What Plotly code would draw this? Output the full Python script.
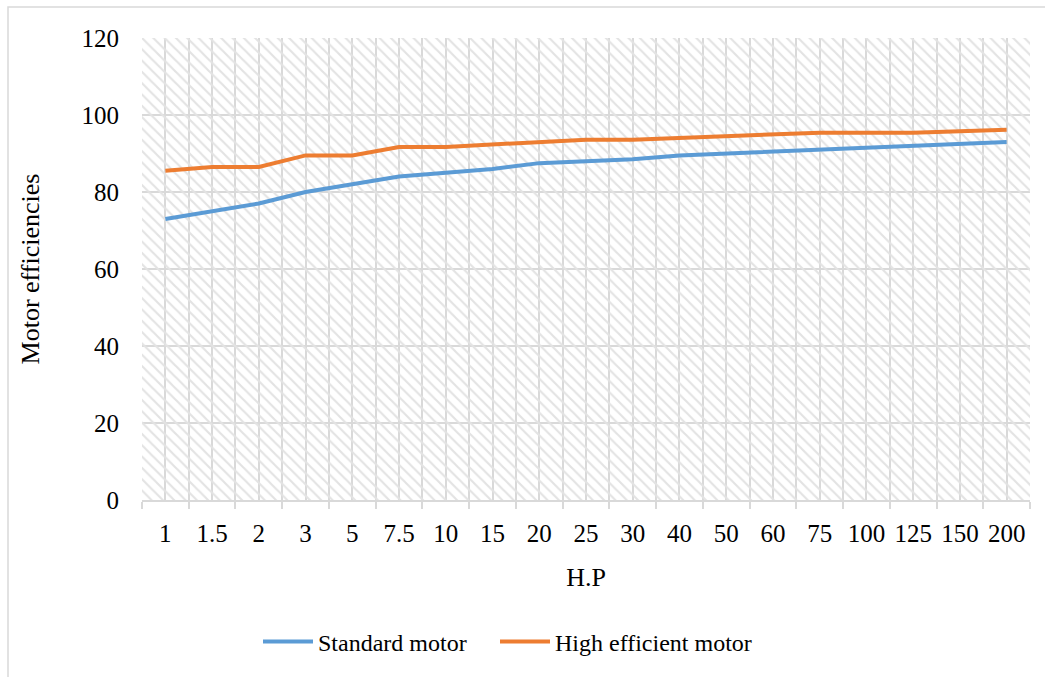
import plotly.graph_objects as go

categories = ["1", "1.5", "2", "3", "5", "7.5", "10", "15", "20", "25", "30",
              "40", "50", "60", "75", "100", "125", "150", "200"]
standard_motor = [73, 75, 77, 80, 82, 84, 85, 86, 87.5, 88, 88.5,
                  89.5, 90, 90.5, 91, 91.5, 92, 92.5, 93]
high_efficient_motor = [85.5, 86.5, 86.5, 89.5, 89.5, 91.7, 91.7, 92.4, 93, 93.6, 93.6,
                        94.1, 94.5, 95, 95.4, 95.4, 95.4, 95.8, 96.2]
y_ticks = [0, 20, 40, 60, 80, 100, 120]

n = len(categories)
idx = list(range(n))
ymax = y_ticks[-1]

FONT = "Liberation Serif, Times New Roman, serif"
GRID = "#d9d9d9"

fig = go.Figure()

# hatched plot-area background
fig.add_trace(go.Bar(
    x=idx, y=[ymax] * n, width=1,
    marker=dict(color="rgba(0,0,0,0)", line=dict(width=0),
                pattern=dict(shape="\\", fgcolor="#e3e3e3", bgcolor="rgba(0,0,0,0)",
                             size=8, solidity=0.27, fillmode="replace")),
    showlegend=False, hoverinfo="skip",
))

fig.add_trace(go.Scatter(
    x=idx, y=standard_motor, mode="lines", name="Standard motor",
    line=dict(color="#5b9bd5", width=4), legend="legend",
))
fig.add_trace(go.Scatter(
    x=idx, y=high_efficient_motor, mode="lines", name="High efficient motor",
    line=dict(color="#ed7d31", width=4), legend="legend2",
))

W, H = 1045, 677
L, R, T, B = 142, 15, 38, 177
pw, ph = W - L - R, H - T - B

def px_x(p):
    return (p - L) / pw

def px_y(p):
    return (H - B - p) / ph

legend_common = dict(orientation="h", xref="container", yref="container",
                     y=0.052, xanchor="left", yanchor="middle",
                     font=dict(family=FONT, size=24), itemwidth=50,
                     bgcolor="rgba(0,0,0,0)")

fig.update_layout(
    width=W, height=H,
    margin=dict(l=L, r=R, t=T, b=B),
    paper_bgcolor="white", plot_bgcolor="white",
    font=dict(family=FONT, size=24, color="black"),
    bargap=0,
    showlegend=True,
    legend=dict(x=258 / W, **legend_common),
    legend2=dict(x=495 / W, **legend_common),
    xaxis=dict(
        range=[-0.5, n - 0.5],
        tickmode="array", tickvals=idx, ticktext=categories,
        ticks="", showgrid=True, gridcolor=GRID, gridwidth=1.5,
        showline=True, linecolor=GRID, linewidth=1.5,
        zeroline=False,
        minor=dict(tickmode="array", tickvals=[i - 0.5 for i in range(n + 1)],
                   ticks="outside", ticklen=7, tickcolor=GRID, tickwidth=1.5,
                   showgrid=True, gridcolor=GRID, gridwidth=1.5),
        ticklabelstandoff=10,
        tickfont=dict(family=FONT, size=25),
        title=dict(text="H.P", font=dict(family=FONT, size=26), standoff=22),
        fixedrange=True,
    ),
    yaxis=dict(
        range=[0, ymax], tickmode="array", tickvals=y_ticks,
        showgrid=True, gridcolor=GRID, gridwidth=1.5,
        zeroline=False, showline=False, ticks="",
        ticklabelstandoff=22,
        tickfont=dict(family=FONT, size=25),
        title=dict(text="Motor efficiencies", font=dict(family=FONT, size=26), standoff=34),
        fixedrange=True,
    ),
    shapes=[dict(type="rect", xref="paper", yref="paper",
                 x0=px_x(8), x1=px_x(1052), y0=px_y(690), y1=px_y(7),
                 line=dict(color=GRID, width=1.5), fillcolor="rgba(0,0,0,0)",
                 layer="below")],
)

fig.write_html("out.html")
